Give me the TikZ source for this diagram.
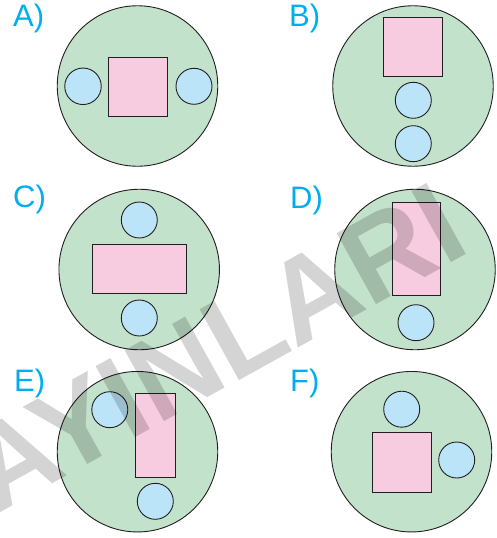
\documentclass[tikz,border=0pt]{standalone}
\usepackage{fontspec}
\setmainfont{Liberation Sans}
\definecolor{discgreen}{HTML}{C2E2CB}
\definecolor{ballblue}{HTML}{BCE4F8}
\definecolor{blockpink}{HTML}{F8CCE0}
\definecolor{tagcyan}{HTML}{00AEEF}
\definecolor{outline}{HTML}{231F20}
\begin{document}
\begin{tikzpicture}[x=1pt,y=-1pt,
  disc/.style={circle,draw=outline,fill=discgreen,line width=0.9pt,minimum size=160.5pt,inner sep=0pt},
  ball/.style={circle,draw=outline,fill=ballblue,line width=0.9pt,minimum size=36pt,inner sep=0pt},
  block/.style={rectangle,draw=outline,fill=blockpink,line width=0.9pt,inner sep=0pt},
  tag/.style={anchor=base west,inner sep=0pt,text=tagcyan,font=\fontsize{31}{31}\selectfont}]
\clip (0,0) rectangle (497,538);
% labels
\node[tag] (tagA) at (13,27) {A)};
\node[tag] (tagB) at (289,27) {B)};
\node[tag] (tagC) at (13,207) {C)};
\node[tag] (tagD) at (290,208) {D)};
\node[tag] (tagE) at (14,391) {E)};
\node[tag] (tagF) at (290,391) {F)};
% A
\node[disc] (discA) at (137.5,86) {};
\node[block,minimum width=59pt,minimum height=59pt] (blockA) at (138.3,86.7) {};
\node[ball,minimum size=36.5pt] (ballA1) at (83,86.3) {};
\node[ball] (ballA2) at (194,86.3) {};
% B
\node[disc] (discB) at (413,86) {};
\node[block,minimum width=59pt,minimum height=59pt] (blockB) at (413.3,47.3) {};
\node[ball] (ballB1) at (413.3,100.3) {};
\node[ball] (ballB2) at (413.3,143.7) {};
% C
\node[disc] (discC) at (139.2,269.5) {};
\node[block,minimum width=94.6pt,minimum height=49pt] (blockC) at (139.5,269.3) {};
\node[ball] (ballC1) at (139.3,220) {};
\node[ball] (ballC2) at (139.3,318) {};
% D
\node[disc] (discD) at (415,269.5) {};
\node[block,minimum width=48.3pt,minimum height=93.6pt] (blockD) at (416.3,249) {};
\node[ball] (ballD1) at (416,322.7) {};
% E
\node[disc] (discE) at (137.5,451.7) {};
\node[block,minimum width=39.7pt,minimum height=84pt] (blockE) at (155.3,435.8) {};
\node[ball] (ballE1) at (109.8,409.7) {};
\node[ball] (ballE2) at (155.3,501.3) {};
% F
\node[disc] (discF) at (411.5,451.7) {};
\node[block,minimum width=59pt,minimum height=59.4pt] (blockF) at (401.7,462.5) {};
\node[ball] (ballF1) at (401.7,409.2) {};
\node[ball] (ballF2) at (456.7,460) {};
% watermark
\node[rotate=29,anchor=base east,inner sep=0pt,text=black,text opacity=0.17,
  font=\fontsize{118}{118}\selectfont\bfseries] (stamp) at (473,251) {YAYINLARI};
\end{tikzpicture}
\end{document}
